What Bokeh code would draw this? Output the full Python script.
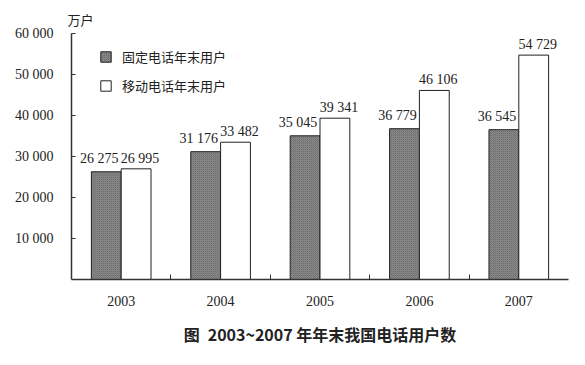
from bokeh.plotting import figure
from bokeh.models import ColumnDataSource, FixedTicker, Legend, LegendItem, LabelSet, Range1d
from bokeh.embed import file_html
from bokeh.resources import INLINE

years = ["2003", "2004", "2005", "2006", "2007"]
fixed = [26275, 31176, 35045, 36779, 36545]
mobile = [26995, 33482, 39341, 46106, 54729]
y_ticks = [10000, 20000, 30000, 40000, 50000, 60000]

def fmt(v):
    return f"{v:,}".replace(",", " ")

xs = [i + 0.5 for i in range(len(years))]
src = ColumnDataSource(dict(
    xf=[x - 0.15 for x in xs], xm=[x + 0.15 for x in xs],
    fixed=fixed, mobile=mobile,
    lf=[fmt(v) for v in fixed], lm=[fmt(v) for v in mobile],
))

p = figure(width=585, height=365, output_backend="svg", toolbar_location=None,
           x_range=Range1d(0, len(years)), y_range=Range1d(0, 60000),
           min_border_left=71, min_border_right=17, min_border_top=33, min_border_bottom=86)
p.title.text = "万户"
p.title.text_font = "Noto Sans CJK SC"
p.title.text_font_size = "13px"
p.title.text_font_style = "normal"
p.title.text_color = "#222222"
p.title.offset = -4
p.grid.visible = False
p.outline_line_color = None
p.background_fill_color = "white"

rf = p.vbar(x="xf", top="fixed", width=0.3, source=src, fill_color="#8f8f8f",
            line_color="#222222", line_width=1, hatch_pattern="criss_cross",
            hatch_color="#666666", hatch_scale=2, hatch_weight=0.5)
rm = p.vbar(x="xm", top="mobile", width=0.3, source=src, fill_color="white",
            line_color="#222222", line_width=1)

p.add_layout(LabelSet(x="xf", y="fixed", text="lf", source=src,
                      text_align="center", text_baseline="alphabetic", y_offset=9, x_offset=-7,
                      text_font="Liberation Serif", text_font_size="14px",
                      text_color="#222222"))
p.add_layout(LabelSet(x="xm", y="mobile", text="lm", source=src,
                      text_align="center", text_baseline="alphabetic", y_offset=6, x_offset=4,
                      text_font="Liberation Serif", text_font_size="14px",
                      text_color="#222222"))

xa = p.xaxis[0]
xa.ticker = FixedTicker(ticks=xs, minor_ticks=[1, 2, 3, 4])
xa.major_label_overrides = {x: y for x, y in zip(xs, years)}
xa.major_tick_in = 0
xa.major_tick_out = 0
xa.minor_tick_in = 5
xa.minor_tick_out = 0
xa.major_label_standoff = 16
xa.major_label_text_font = "Liberation Serif"
xa.major_label_text_font_size = "14px"
xa.axis_label = "图\u20022003~2007 年年末我国电话用户数"
xa.axis_label_text_font = "Noto Sans CJK SC"
xa.axis_label_text_font_style = "bold"
xa.axis_label_text_font_size = "16px"
xa.axis_label_text_color = "#222222"
xa.axis_label_standoff = 13

ya = p.yaxis[0]
ya.ticker = FixedTicker(ticks=y_ticks)
ya.major_label_overrides = {t: fmt(t) for t in y_ticks}
ya.major_tick_in = 4
ya.major_tick_out = 0
ya.minor_tick_in = 0
ya.minor_tick_out = 0
ya.major_label_standoff = 18
ya.major_label_text_font = "Liberation Serif"
ya.major_label_text_font_size = "14px"

for ax in (xa, ya):
    ax.axis_line_color = "#333333"
    ax.axis_line_width = 1.5
    ax.major_tick_line_color = "#333333"
    ax.minor_tick_line_color = "#333333"
    ax.major_label_text_color = "#222222"

legend = Legend(items=[LegendItem(label="固定电话年末用户", renderers=[rf]),
                       LegendItem(label="移动电话年末用户", renderers=[rm])],
                location=(28, 184), padding=0, spacing=10, glyph_width=13, glyph_height=13,
                label_height=13, label_standoff=10, border_line_color=None,
                background_fill_alpha=0, label_text_font="Noto Sans CJK SC",
                label_text_font_size="13px", label_text_color="#222222")
p.add_layout(legend)

open("out.html", "w").write(file_html(p, INLINE))
